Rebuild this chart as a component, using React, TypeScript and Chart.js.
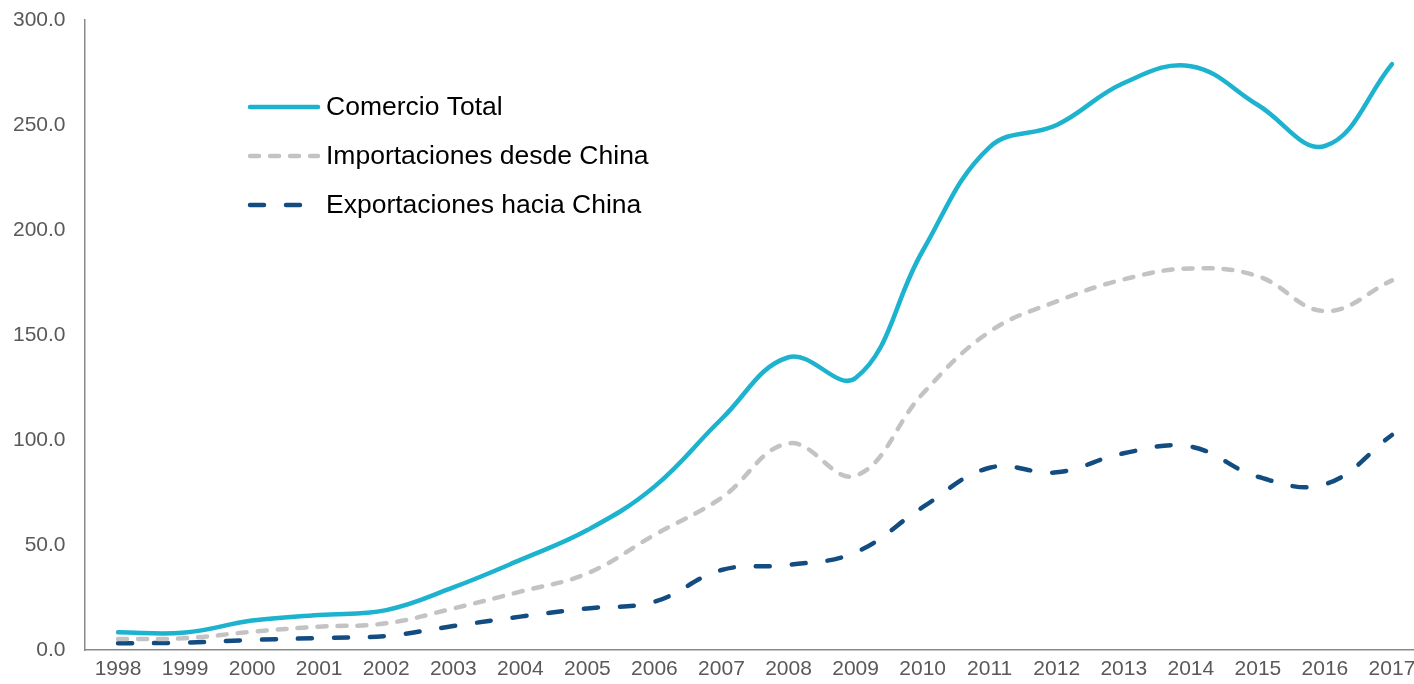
import React, { useEffect, useRef } from "react";
import { Chart, registerables } from "chart.js";

Chart.register(...registerables);

const years = ["1998", "1999", "2000", "2001", "2002", "2003", "2004", "2005", "2006", "2007", "2008", "2009", "2010", "2011", "2012", "2013", "2014", "2015", "2016", "2017"];
const comercioTotal = [8.4, 8.3, 14, 16.7, 19, 29.8, 42.9, 57.1, 77.8, 110, 139.4, 129.5, 190, 239.5, 250, 270, 278, 259.5, 240, 279];
const importaciones = [5.2, 5.6, 8.7, 11.1, 12.7, 19.8, 27.8, 36.5, 54.8, 72.5, 98.4, 83, 122, 151.6, 166, 176.5, 181.7, 178, 161.4, 176];
const exportaciones = [3.2, 3.5, 4.8, 5.7, 6.7, 11.4, 15.9, 19.8, 23, 38.1, 40.5, 46.5, 68, 86.8, 84.6, 93.7, 96.8, 82.5, 78.9, 102.4];
const seriesLabels = ["Comercio Total", "Importaciones desde China", "Exportaciones hacia China"];
const yTicks = [0, 50, 100, 150, 200, 250, 300];

const FONT = "'Liberation Sans', Arial, sans-serif";

const legendPlugin = {
  id: "customLegend",
  afterDraw(chart: any) {
    const ctx = chart.ctx;
    const rows = [107, 156, 205];
    chart.data.datasets.forEach((ds: any, i: number) => {
      const y = rows[i];
      ctx.save();
      ctx.beginPath();
      ctx.strokeStyle = ds.borderColor;
      ctx.lineWidth = ds.borderWidth;
      ctx.lineCap = "round";
      ctx.setLineDash(ds.borderDash || []);
      ctx.moveTo(250, y);
      ctx.lineTo(318, y);
      ctx.stroke();
      ctx.setLineDash([]);
      ctx.fillStyle = "#000000";
      ctx.font = `26.5px ${FONT}`;
      ctx.textBaseline = "middle";
      ctx.textAlign = "left";
      ctx.fillText(ds.label, 326, y + 1);
      ctx.restore();
    });
  },
};

export default function App() {
  const canvasRef = useRef<HTMLCanvasElement | null>(null);

  useEffect(() => {
    if (!canvasRef.current) return;
    const chart = new Chart(canvasRef.current, {
      type: "line",
      data: {
        labels: years,
        datasets: [
          {
            label: seriesLabels[0],
            data: comercioTotal,
            borderColor: "#1db3cf",
            borderWidth: 4.5,
            borderCapStyle: "round",
            tension: 0.4,
            pointRadius: 0,
            fill: false,
          },
          {
            label: seriesLabels[1],
            data: importaciones,
            borderColor: "#c3c3c3",
            borderWidth: 4.5,
            borderDash: [9, 11],
            borderCapStyle: "round",
            tension: 0.4,
            pointRadius: 0,
            fill: false,
          },
          {
            label: seriesLabels[2],
            data: exportaciones,
            borderColor: "#124c80",
            borderWidth: 4.5,
            borderDash: [14, 22],
            borderCapStyle: "round",
            tension: 0.4,
            pointRadius: 0,
            fill: false,
          },
        ],
      },
      options: {
        animation: false,
        responsive: false,
        maintainAspectRatio: false,
        layout: { padding: { top: 20, right: 14.5, bottom: 0, left: 0 } },
        plugins: {
          legend: { display: false },
          tooltip: { enabled: false },
        },
        scales: {
          x: {
            type: "category",
            offset: true,
            grid: { display: false, drawTicks: false },
            border: { display: true, color: "#8a8a8a", width: 1.5 },
            ticks: {
              autoSkip: false,
              maxRotation: 0,
              minRotation: 0,
              padding: 7,
              color: "#595959",
              font: { family: FONT, size: 21 },
            },
            afterFit(scale: any) {
              scale.height = 34;
              scale.paddingLeft = 0;
              scale.paddingRight = 0;
            },
          },
          y: {
            min: 0,
            max: 300,
            afterBuildTicks(scale: any) {
              scale.ticks = yTicks.map((v) => ({ value: v }));
            },
            grid: { display: false, drawTicks: false },
            border: { display: true, color: "#8a8a8a", width: 1.5 },
            ticks: {
              padding: 19,
              color: "#595959",
              font: { family: FONT, size: 21 },
              callback: (v: any) => Number(v).toFixed(1),
            },
            afterFit(scale: any) {
              scale.width = 84.5;
              scale.paddingTop = 0;
              scale.paddingBottom = 0;
            },
          },
        },
      },
      plugins: [legendPlugin],
    } as any);
    return () => chart.destroy();
  }, []);

  return (
    <div style={{ position: "fixed", left: 0, top: 0, width: 1414, height: 684, overflow: "hidden", background: "#fff" }}>
      <canvas ref={canvasRef} width={1440} height={684} style={{ width: 1440, height: 684, display: "block" }} />
    </div>
  );
}
